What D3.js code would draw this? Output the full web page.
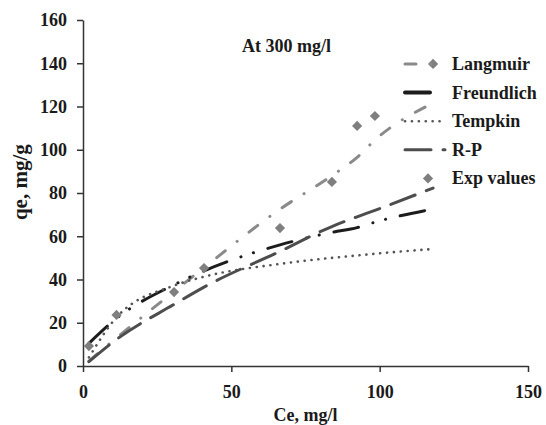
<!DOCTYPE html>
<html>
<head>
<meta charset="utf-8">
<script src="https://cdn.jsdelivr.net/npm/d3@7/dist/d3.min.js"></script>
<style>
  html, body { margin: 0; padding: 0; background: #fff; }
  svg { display: block; }
  text { font-family: "Liberation Serif", "Times New Roman", serif; font-weight: bold; fill: #1a1a1a; }
</style>
</head>
<body>
<svg id="chart" width="546" height="425"></svg>
<script>
// Equilibrium concentration Ce (mg/l) and adsorbed amount qe (mg/g)
const ce         = [2, 11.3, 30.7, 40.8, 66.4, 83.9, 92.4, 98.4, 118];
const expValues  = [9.2, 23.6, 34.2, 45.3, 63.8, 85.1, 111, 115.6, 139.7];
const langmuir   = [2.3, 13, 34.5, 45.5, 72.5, 88, 96.5, 104.5, 121.6];
const freundlich = [10.5, 22, 37.6, 44, 56, 61.8, 64, 66.5, 72.6];
const tempkin    = [4, 22.5, 37.2, 41.3, 47.2, 50, 51.1, 51.9, 54.1];
const rp         = [2, 12.3, 28.5, 36.5, 53, 64.5, 69, 72, 82.3];

const xTicks = [0, 50, 100, 150];
const yTicks = [0, 20, 40, 60, 80, 100, 120, 140, 160];
const legendNames = ["Langmuir", "Freundlich", "Tempkin", "R-P", "Exp values"];

const svg = d3.select("#chart");
const x = d3.scaleLinear().domain([0, 150]).range([83, 528]);
const y = d3.scaleLinear().domain([0, 160]).range([366, 20]);

// axes
const xAxis = svg.append("g").attr("transform", `translate(0,${y(0)})`)
  .call(d3.axisBottom(x).tickValues(xTicks).tickSize(6).tickSizeOuter(0).tickPadding(13));
const yAxis = svg.append("g").attr("transform", `translate(${x(0)},0)`)
  .call(d3.axisLeft(y).tickValues(yTicks).tickSize(6).tickSizeOuter(0).tickPadding(10));
[xAxis, yAxis].forEach(g => {
  g.select(".domain").attr("stroke", "#333").attr("stroke-width", 1.5);
  g.selectAll(".tick line").attr("stroke", "#333").attr("stroke-width", 1.5);
  g.selectAll(".tick text").attr("font-size", 18).attr("fill", "#1a1a1a")
    .attr("font-family", '"Liberation Serif", serif').attr("font-weight", "bold");
});

// axis titles and annotation
svg.append("text").attr("x", x(75)).attr("y", 421).attr("text-anchor", "middle")
  .attr("font-size", 18).text("Ce, mg/l");
svg.append("text").attr("transform", `translate(27,${y(85)}) rotate(-90)`)
  .attr("text-anchor", "middle").attr("font-size", 21).text("qe, mg/g");
svg.append("text").attr("x", 242).attr("y", 52).attr("font-size", 18).text("At 300 mg/l");

// model curves
const styles = {
  Langmuir:   { values: langmuir,   color: "#8a8a8a", width: 3,   dash: "11,15,0.1,15" },
  Freundlich: { values: freundlich, color: "#1c1c1c", width: 3,   dash: "25,15,0.1,13,0.1,15" },
  Tempkin:    { values: tempkin,    color: "#555555", width: 2.6, dash: "0.1,6.8" },
  "R-P":      { values: rp,         color: "#4d4d4d", width: 3,   dash: "26,12" }
};
const line = d3.line().x((d, i) => x(ce[i])).y(d => y(d)).curve(d3.curveMonotoneX);

Object.entries(styles).forEach(([name, s]) => {
  svg.append("path").datum(s.values)
    .attr("d", line)
    .attr("fill", "none")
    .attr("stroke", s.color)
    .attr("stroke-width", s.width)
    .attr("stroke-linecap", "round")
    .attr("stroke-dasharray", s.dash);
});

// experimental points (square turned 45 degrees)
const diamond = d3.symbol().type(d3.symbolSquare).size(52);
svg.append("g").selectAll("path").data(expValues).join("path")
  .attr("d", diamond)
  .attr("transform", (d, i) => `translate(${x(ce[i])},${y(d)}) rotate(45)`)
  .attr("fill", "#7f7f7f");

// legend
const legend = svg.append("g");
legendNames.forEach((name, i) => {
  const ly = 64 + i * 28.6;
  const row = legend.append("g");
  if (styles[name]) {
    const s = styles[name];
    row.append("line").attr("x1", 405).attr("x2", 445).attr("y1", ly).attr("y2", ly)
      .attr("stroke", s.color).attr("stroke-width", name === "Freundlich" ? 4 : s.width)
      .attr("stroke-linecap", "round").attr("stroke-dasharray", s.dash);
  } else {
    row.append("path").attr("d", diamond).attr("transform", `translate(428,${ly}) rotate(45)`)
      .attr("fill", "#7f7f7f");
  }
  row.append("text").attr("x", 452).attr("y", ly + 6).attr("font-size", 18).text(name);
});
</script>
</body>
</html>
